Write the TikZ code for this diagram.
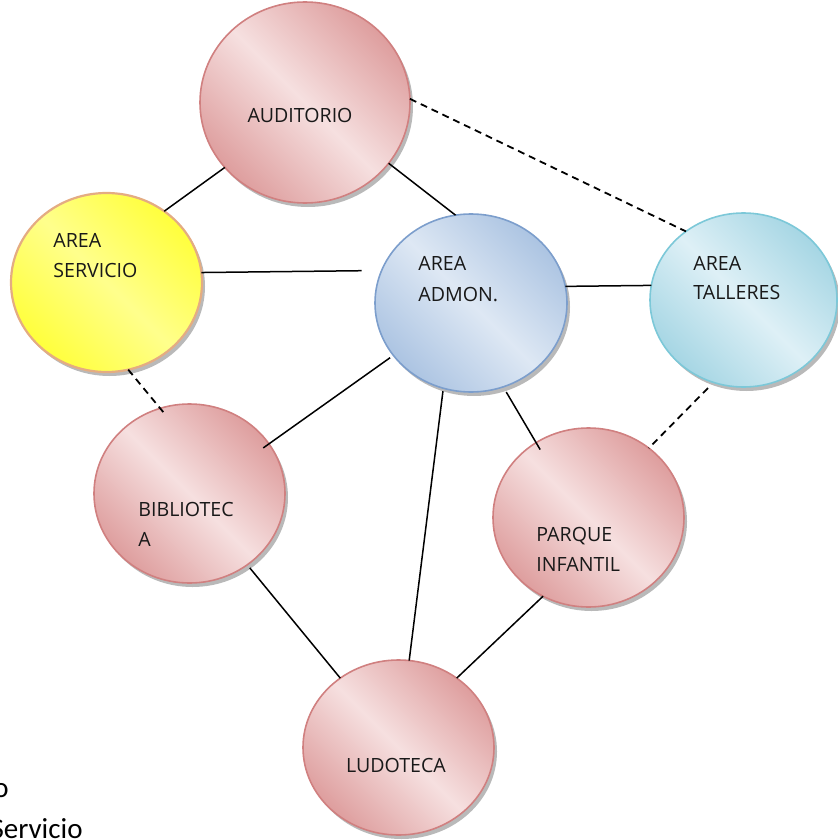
\documentclass[tikz,border=0pt]{standalone}
\usepackage{fontspec}
\setmainfont{Open Sans}
\newfontfamily\legendfont{Carlito}
\usetikzlibrary{shapes.geometric,shadows}
\definecolor{pinkdark}{RGB}{222,158,158}
\definecolor{pinklight}{RGB}{246,224,224}
\definecolor{pinkline}{RGB}{208,128,128}
\definecolor{yelfill}{RGB}{255,255,60}
\definecolor{yellight}{RGB}{255,255,140}
\definecolor{yelline}{RGB}{228,172,130}
\definecolor{bluedark}{RGB}{172,196,226}
\definecolor{bluelight}{RGB}{222,232,244}
\definecolor{blueline}{RGB}{124,158,204}
\definecolor{cyandark}{RGB}{166,214,228}
\definecolor{cyanlight}{RGB}{222,240,246}
\definecolor{cyanline}{RGB}{124,200,216}
\tikzset{
  bubble/.style={ellipse, inner sep=0pt, outer sep=0pt, line width=0.8pt,
    drop shadow={shadow xshift=1.5pt, shadow yshift=-2pt, fill=black!50, opacity=0.55}},
  pinkbubble/.style={bubble, draw=pinkline, top color=pinkdark, bottom color=pinkdark,
    middle color=pinklight, shading angle=-45},
  yelbubble/.style={bubble, draw=yelline, line width=1.1pt, top color=yelfill, bottom color=yelfill,
    middle color=yellight, shading angle=-45},
  bluebubble/.style={bubble, draw=blueline, top color=bluedark, bottom color=bluedark,
    middle color=bluelight, shading angle=-45},
  cyanbubble/.style={bubble, draw=cyanline, top color=cyandark, bottom color=cyandark,
    middle color=cyanlight, shading angle=-45},
  lbl/.style={font=\fontsize{9.8pt}{11pt}\selectfont, inner sep=0pt, text=black!90},
  solidlink/.style={line width=0.75pt, black},
  dashlink/.style={line width=0.9pt, black, dash pattern=on 3.5pt off 2.5pt},
  legend/.style={font=\legendfont\fontsize{14.5pt}{16pt}\selectfont, inner sep=0pt, anchor=base east}
}
\begin{document}
\begin{tikzpicture}[x=0.5pt, y=-0.5pt]
\useasboundingbox (0,0) rectangle (837,840);

% circles
\node[pinkbubble, minimum width=105pt, minimum height=100.5pt] (aud) at (305,102.5) {};
\node[yelbubble, minimum width=95.5pt, minimum height=89.5pt] (srv) at (106.5,282.5) {};
\node[bluebubble, minimum width=96pt, minimum height=89pt] (adm) at (471,303) {};
\node[cyanbubble, minimum width=93.5pt, minimum height=87pt] (tal) at (743.5,300) {};
\node[pinkbubble, minimum width=95.5pt, minimum height=89.5pt] (bib) at (189.5,493.5) {};
\node[pinkbubble, minimum width=95.5pt, minimum height=89.5pt] (par) at (588.5,517.5) {};
\node[pinkbubble, minimum width=95.5pt, minimum height=87.5pt] (lud) at (398.5,747.5) {};

% labels
\node[lbl, anchor=base] (taud) at (300,122) {AUDITORIO};
\node[lbl, anchor=base west] (tsrv1) at (53,247) {AREA};
\node[lbl, anchor=base west] (tsrv2) at (53,277) {SERVICIO};
\node[lbl, anchor=base west] (tadm1) at (418,270) {AREA};
\node[lbl, anchor=base west] (tadm2) at (418,301) {ADMON.};
\node[lbl, anchor=base west] (ttal1) at (693,270) {AREA};
\node[lbl, anchor=base west] (ttal2) at (693,299) {TALLERES};
\node[lbl, anchor=base west] (tbib1) at (138,516) {BIBLIOTEC};
\node[lbl, anchor=base west] (tbib2) at (138,546) {A};
\node[lbl, anchor=base west] (tpar1) at (536,541) {PARQUE};
\node[lbl, anchor=base west] (tpar2) at (536,571) {INFANTIL};
\node[lbl, anchor=base] (tlud) at (396,772) {LUDOTECA};

% connectors
\draw[solidlink] (aud.219) -- (srv.51);
\draw[solidlink] (aud.-36) -- (adm.100);
\draw[dashlink] (aud.2) -- (tal.130);
\draw[solidlink, shorten >=10pt] (srv.6) -- (adm.160);
\draw[solidlink] (adm.10) -- (tal.171);
\draw[dashlink, shorten >=-4.5pt] (srv.-76) -- (bib.109);
\draw[solidlink, shorten <=2pt, shorten >=-3.5pt] (adm.214) -- (bib.32);
\draw[solidlink, shorten <=3pt, shorten >=-4pt] (adm.-69.5) -- (par.125);
\draw[solidlink, shorten <=1.5pt] (adm.252) -- (lud.83);
\draw[dashlink, shorten <=4pt] (tal.250) -- (par.49);
\draw[solidlink, shorten <=2pt] (bib.-51) -- (lud.130);
\draw[solidlink] (par.240) -- (lud.50);

% cut-off legend text
\node[legend] (lego) at (9,797) {o};
\node[legend] (legs) at (83,838) {Servicio};
\end{tikzpicture}
\end{document}
